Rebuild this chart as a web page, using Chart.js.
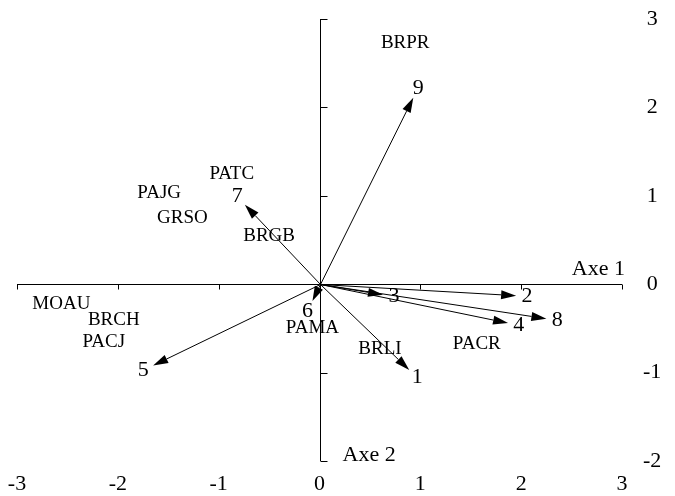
<!DOCTYPE html>
<html>
<head>
<meta charset="utf-8">
<script src="https://cdn.jsdelivr.net/npm/chart.js@4"></script>
<style>
  body { margin: 0; background: #ffffff; }
  canvas { display: block; }
</style>
</head>
<body>
<canvas id="biplot" width="675" height="496"></canvas>
<script>
// arrows (numbered variables) - tip coordinates
const arrowNames = ['1', '2', '3', '4', '5', '6', '7', '8', '9'];
const arrowX = [0.89, 1.95, 0.63, 1.87, -1.65, -0.07, -0.74, 2.25, 0.93];
const arrowY = [-0.97, -0.13, -0.12, -0.44, -0.92, -0.19, 0.90, -0.39, 2.11];

// species labels
const speciesNames = ['BRPR', 'PATC', 'PAJG', 'GRSO', 'BRGB', 'MOAU', 'BRCH', 'PACJ', 'PAMA', 'BRLI', 'PACR'];
const speciesX = [0.85, -0.87, -1.59, -1.36, -0.50, -2.56, -2.04, -2.14, -0.07, 0.60, 1.56];
const speciesY = [2.73, 1.25, 1.03, 0.75, 0.54, -0.22, -0.40, -0.65, -0.50, -0.73, -0.68];

// axes
const xTicks = [-3, -2, -1, 0, 1, 2, 3];
const yTicks = [-2, -1, 0, 1, 2, 3];
const axisTitles = ['Axe 1', 'Axe 2'];

const serif = "'Liberation Serif', 'Times New Roman', serif";

const arrowPoints = arrowX.map((x, i) => ({ x: x, y: arrowY[i] }));
const speciesPoints = speciesX.map((x, i) => ({ x: x, y: speciesY[i] }));

// draws the cross axes through the origin, the arrows and all the text
const biplotPlugin = {
    id: 'biplot',
    afterDatasetsDraw(chart) {
        const ctx = chart.ctx;
        const xs = chart.scales.x;
        const ys = chart.scales.y;
        const ox = Math.round(xs.getPixelForValue(0)) + 0.5;
        const oy = Math.round(ys.getPixelForValue(0)) + 0.5;

        ctx.save();
        ctx.strokeStyle = '#000';
        ctx.fillStyle = '#000';
        ctx.lineWidth = 1;

        // horizontal axis + ticks going down
        ctx.beginPath();
        ctx.moveTo(xs.getPixelForValue(xTicks[0]), oy);
        ctx.lineTo(xs.getPixelForValue(xTicks[xTicks.length - 1]), oy);
        xTicks.forEach(v => {
            if (v === 0) return;
            const px = Math.round(xs.getPixelForValue(v)) + 0.5;
            ctx.moveTo(px, oy);
            ctx.lineTo(px, oy + 5);
        });
        // vertical axis + ticks going right
        ctx.moveTo(ox, ys.getPixelForValue(yTicks[0]));
        ctx.lineTo(ox, ys.getPixelForValue(yTicks[yTicks.length - 1]));
        yTicks.forEach(v => {
            if (v === 0) return;
            const py = Math.round(ys.getPixelForValue(v)) + 0.5;
            ctx.moveTo(ox, py);
            ctx.lineTo(ox + 7, py);
        });
        ctx.stroke();

        // arrows from origin
        const meta = chart.getDatasetMeta(0);
        ctx.font = '22px ' + serif;
        ctx.textAlign = 'center';
        ctx.textBaseline = 'middle';
        meta.data.forEach((pt, i) => {
            const dx = pt.x - ox;
            const dy = pt.y - oy;
            const len = Math.sqrt(dx * dx + dy * dy);
            const ux = dx / len;
            const uy = dy / len;
            const head = Math.min(15, len * 0.8);
            const bx = pt.x - ux * head;
            const by = pt.y - uy * head;
            ctx.beginPath();
            ctx.moveTo(ox, oy);
            ctx.lineTo(bx, by);
            ctx.stroke();
            ctx.beginPath(); // arrowhead
            ctx.moveTo(pt.x, pt.y);
            ctx.lineTo(bx - uy * 4.5, by + ux * 4.5);
            ctx.lineTo(bx + uy * 4.5, by - ux * 4.5);
            ctx.closePath();
            ctx.fill();
            ctx.fillText(arrowNames[i], pt.x + ux * 11, pt.y + uy * 11); // number just past the tip
        });

        // species names
        const meta2 = chart.getDatasetMeta(1);
        ctx.font = '19px ' + serif;
        meta2.data.forEach((pt, i) => {
            ctx.fillText(speciesNames[i], pt.x, pt.y);
        });

        // axis titles
        ctx.font = '22px ' + serif;
        ctx.textAlign = 'right';
        ctx.textBaseline = 'alphabetic';
        ctx.fillText(axisTitles[0], xs.getPixelForValue(xTicks[xTicks.length - 1]) + 3, oy - 10);
        ctx.textAlign = 'left';
        ctx.textBaseline = 'middle';
        ctx.fillText(axisTitles[1], ox + 22, ys.getPixelForValue(yTicks[0]) - 6);
        ctx.restore();
    }
};

new Chart(document.getElementById('biplot'), {
    type: 'scatter',
    data: {
        datasets: [
            { data: arrowPoints, pointRadius: 0, pointHoverRadius: 0, showLine: false },
            { data: speciesPoints, pointRadius: 0, pointHoverRadius: 0, showLine: false }
        ]
    },
    options: {
        responsive: false,
        animation: false,
        devicePixelRatio: 1,
        layout: { autoPadding: false, padding: { left: 17, right: 13, top: 19, bottom: 0 } },
        plugins: { legend: { display: false }, tooltip: { enabled: false } },
        scales: {
            x: {
                type: 'linear',
                position: 'bottom',
                min: xTicks[0],
                max: xTicks[xTicks.length - 1],
                grid: { display: false, drawTicks: false },
                border: { display: false },
                afterBuildTicks: s => { s.ticks = xTicks.map(v => ({ value: v })); },
                afterFit: s => { s.height = 35; s.paddingLeft = 0; s.paddingRight = 0; },
                ticks: { color: '#000', padding: 10, font: { family: serif, size: 22 } }
            },
            y: {
                type: 'linear',
                position: 'right',
                min: yTicks[0],
                max: yTicks[yTicks.length - 1],
                grid: { display: false, drawTicks: false },
                border: { display: false },
                afterBuildTicks: s => { s.ticks = yTicks.map(v => ({ value: v })); },
                afterFit: s => { s.width = 40; s.paddingTop = 0; s.paddingBottom = 0; },
                ticks: { color: '#000', padding: 21, crossAlign: 'center', font: { family: serif, size: 22 } }
            }
        }
    },
    plugins: [biplotPlugin]
});
</script>
</body>
</html>
